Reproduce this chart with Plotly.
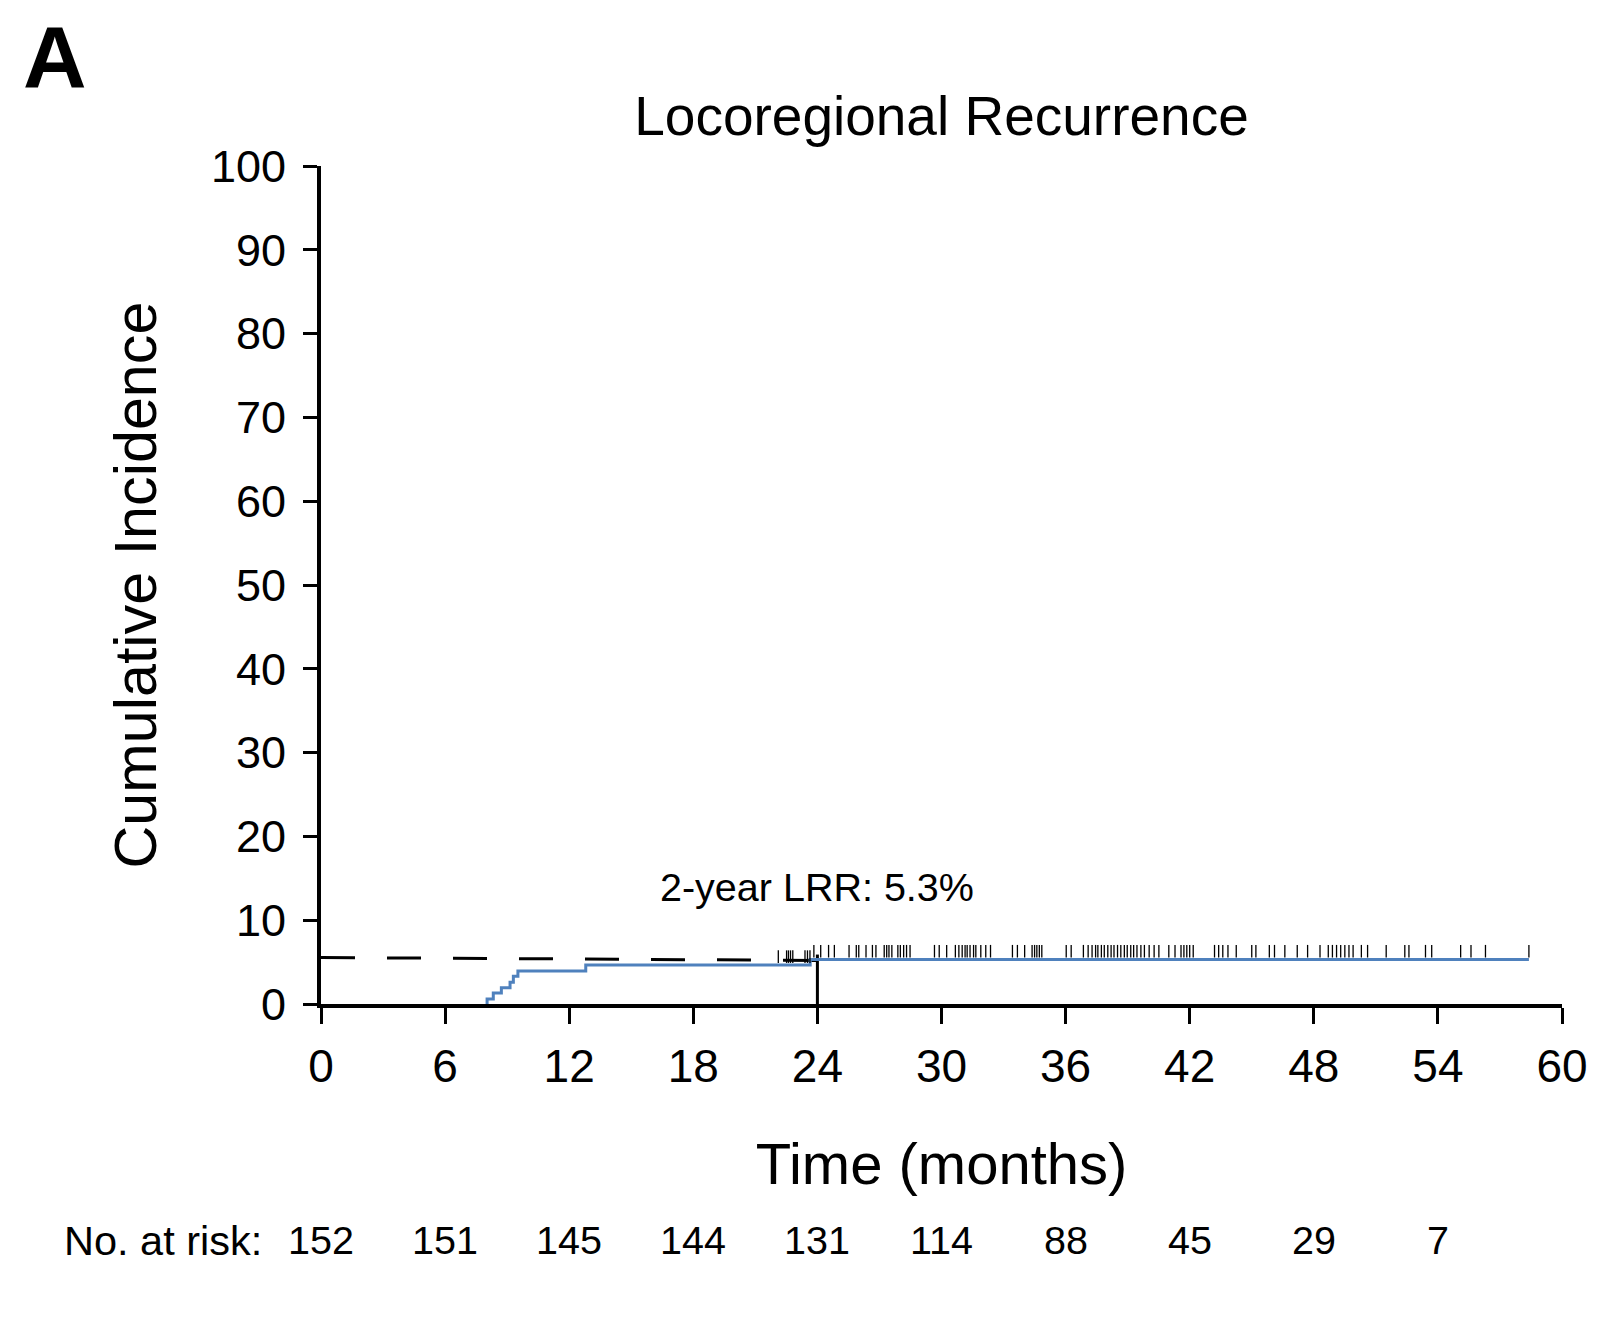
import plotly.graph_objects as go

# ---------------- data ----------------
# cumulative incidence of locoregional recurrence after each event (months / %)
event_times = [8.03, 8.33, 8.72, 9.14, 9.30, 9.52, 12.80, 23.65]
event_ci = [0.6, 1.3, 1.95, 2.6, 3.3, 3.95, 4.65, 5.3]
last_followup = 58.4

# censoring times (months)
censor_times = [
    22.11, 22.51, 22.60, 22.70, 22.81, 23.40, 23.52, 23.64,
    23.83, 24.16, 24.54, 24.82, 25.53, 25.88, 26.00, 26.35, 26.66, 26.83,
    27.23, 27.35, 27.46, 27.60, 27.89, 28.01, 28.17, 28.31, 28.48,
    29.66, 29.89, 30.25, 30.67, 30.84, 31.00, 31.14, 31.24, 31.38, 31.55,
    31.66, 31.90, 32.14, 32.37, 33.43, 33.67, 34.02, 34.38, 34.50, 34.61,
    34.73, 34.85, 36.03, 36.27, 36.86, 37.09, 37.28, 37.45, 37.56, 37.73,
    37.87, 38.04, 38.20, 38.34, 38.51, 38.67, 38.84, 38.98, 39.15, 39.29,
    39.45, 39.64, 39.81, 40.04, 40.28, 40.51, 40.99, 41.29, 41.58, 41.72,
    41.86, 42.00, 42.17, 43.20, 43.40, 43.60, 43.85, 44.25, 45.00, 45.20,
    45.85, 46.10, 46.60, 47.20, 47.70, 48.30, 48.70, 48.90, 49.10, 49.30,
    49.50, 49.70, 49.90, 50.30, 50.60, 51.50, 52.40, 52.60, 53.40, 53.70,
    55.10, 55.60, 56.30, 58.40,
]

# 2-year reference lines
ref_h_x = [0, 24]
ref_h_y = [5.55, 5.2]
ref_v_x = [24, 24]
ref_v_y = [0, 5.9]
two_year_label = "2-year LRR: 5.3%"

# number at risk
risk_times = [0, 6, 12, 18, 24, 30, 36, 42, 48, 54]
at_risk = [152, 151, 145, 144, 131, 114, 88, 45, 29, 7]

x_ticks = [0, 6, 12, 18, 24, 30, 36, 42, 48, 54, 60]
y_ticks = [0, 10, 20, 30, 40, 50, 60, 70, 80, 90, 100]

# ---------------- styling ----------------
FONT = "Liberation Sans, Arial, Helvetica, sans-serif"
BLUE = "#4F81BD"
TICK_OFFSET = 1.0  # censor marks sit slightly above the curve

# curve drawn from the first event (starts on the x axis)
curve_x = [event_times[0]] + event_times + [last_followup]
curve_y = [0] + event_ci + [event_ci[-1]]


def level_at(t):
    lvl = 0
    for tt, v in zip(event_times, event_ci):
        if tt <= t:
            lvl = v
    return lvl


censor_y = [level_at(t) + TICK_OFFSET for t in censor_times]

fig = go.Figure()

fig.add_trace(go.Scatter(
    x=ref_h_x, y=ref_h_y, mode="lines",
    line=dict(color="black", width=3, dash="34px,32px"),
    hoverinfo="skip", showlegend=False,
))
fig.add_trace(go.Scatter(
    x=ref_v_x, y=ref_v_y, mode="lines",
    line=dict(color="black", width=3),
    hoverinfo="skip", showlegend=False,
))
fig.add_trace(go.Scatter(
    x=curve_x, y=curve_y, mode="lines",
    line=dict(color=BLUE, width=3, shape="hv"),
    showlegend=False,
))
fig.add_trace(go.Scatter(
    x=censor_times, y=censor_y, mode="markers",
    marker=dict(symbol="line-ns", size=9,
                line=dict(color="black", width=1.3)),
    showlegend=False,
))

annotations = []
for t, n in zip(risk_times, at_risk):
    annotations.append(dict(
        x=t, y=-0.282, xref="x", yref="paper", text=str(n),
        showarrow=False, xanchor="center", yanchor="middle",
        font=dict(family=FONT, size=39.5, color="black"),
    ))
annotations.append(dict(
    x=-0.046, y=-0.282, xref="paper", yref="paper", text="No. at risk:",
    showarrow=False, xanchor="right", yanchor="middle",
    font=dict(family=FONT, size=41.5, color="black"),
))
annotations.append(dict(
    x=16.31, y=14.0, xref="x", yref="y", text=two_year_label,
    showarrow=False, xanchor="left", yanchor="middle",
    font=dict(family=FONT, size=39.5, color="black"),
))
annotations.append(dict(
    x=-0.242, y=1.131, xref="paper", yref="paper", text="<b>A</b>",
    showarrow=False, xanchor="left", yanchor="middle",
    font=dict(family=FONT, size=88, color="black"),
))

fig.update_layout(
    width=1620, height=1318,
    margin=dict(l=313, r=66, t=158, b=322),
    paper_bgcolor="white", plot_bgcolor="white",
    font=dict(family=FONT, color="black"),
    title=dict(text="Locoregional Recurrence", x=0.5, xref="paper",
               y=1 - 108 / 1318, yref="container", yanchor="middle",
               xanchor="center",
               font=dict(family=FONT, size=55, color="black")),
    annotations=annotations,
    showlegend=False,
)

fig.update_xaxes(
    range=[0, 60], tickvals=x_ticks, ticktext=[str(v) for v in x_ticks],
    showline=True, linewidth=4, linecolor="black",
    ticks="outside", ticklen=16, tickwidth=3, tickcolor="black",
    ticklabelstandoff=3,
    showgrid=False, zeroline=False, automargin=False,
    tickfont=dict(family=FONT, size=46, color="black"),
    title=dict(text="Time (months)", standoff=53,
               font=dict(family=FONT, size=58, color="black")),
)
fig.update_yaxes(
    range=[0, 100], tickvals=y_ticks, ticktext=[str(v) for v in y_ticks],
    showline=True, linewidth=4, linecolor="black",
    ticks="outside", ticklen=14, tickwidth=3, tickcolor="black",
    ticklabelstandoff=8,
    showgrid=False, zeroline=False, automargin=False,
    tickfont=dict(family=FONT, size=45, color="black"),
    title=dict(text="Cumulative Incidence", standoff=36,
               font=dict(family=FONT, size=59.3, color="black")),
)

fig.write_html("out.html")
